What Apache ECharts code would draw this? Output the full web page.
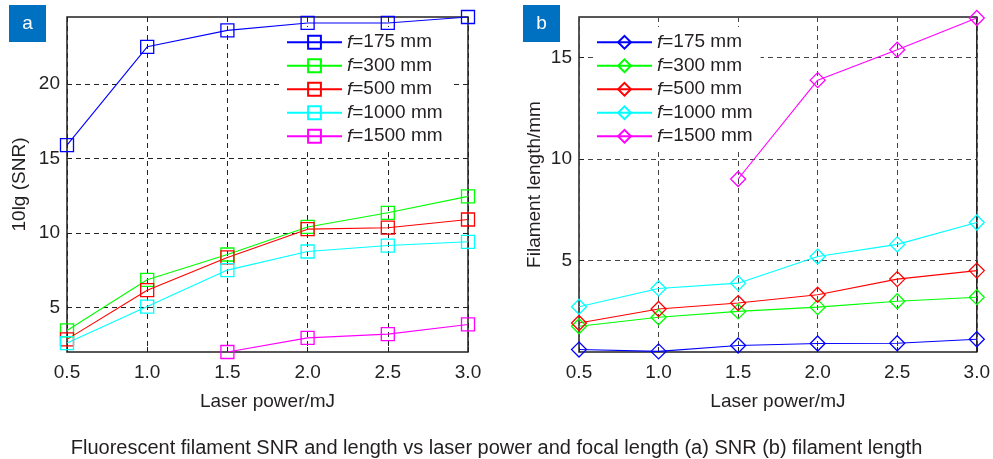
<!DOCTYPE html>
<html>
<head>
<meta charset="utf-8">
<script src="https://cdn.jsdelivr.net/npm/echarts@6/dist/echarts.min.js"></script>
<style>
  html, body { margin: 0; padding: 0; background: #fff; }
  #chart { width: 993px; height: 459px; }
</style>
</head>
<body>
<div id="chart"></div>
<script>
const laserPower = [0.5, 1.0, 1.5, 2.0, 2.5, 3.0]
const focalLengths = ['175', '300', '500', '1000', '1500']
const colors = ['#0000ff', '#00ff00', '#ff0000', '#00ffff', '#ff00ff']

// (a) 10lg(SNR)
const snr175 = [15.9, 22.5, 23.6, 24.1, 24.1, 24.5]
const snr300 = [3.45, 6.85, 8.55, 10.4, 11.35, 12.45]
const snr500 = [2.85, 6.15, 8.35, 10.25, 10.35, 10.9]
const snr1000 = [2.6, 5.05, 7.5, 8.75, 9.15, 9.4]
const snr1500 = [null, null, 2.0, 2.95, 3.2, 3.85]

// (b) filament length / mm
const len175 = [0.62, 0.53, 0.82, 0.92, 0.93, 1.13]
const len300 = [1.77, 2.21, 2.5, 2.71, 3.0, 3.2]
const len500 = [1.93, 2.62, 2.91, 3.32, 4.09, 4.51]
const len1000 = [2.73, 3.63, 3.89, 5.2, 5.8, 6.88]
const len1500 = [null, null, 9.02, 13.89, 15.39, 16.95]

const snrTicks = [5, 10, 15, 20]
const lenTicks = [5, 10, 15]

const snrData = [snr175, snr300, snr500, snr1000, snr1500]
const lenData = [len175, len300, len500, len1000, len1500]

const font = 'Liberation Sans, Arial, sans-serif'
const textColor = '#231f20'

const pairs = vals => laserPower.map((x, i) => [x, vals[i]]).filter(p => p[1] != null)

const makeSeries = (prefix, dataList, symbol, idx) =>
  dataList.map((vals, i) => ({
    name: prefix + focalLengths[i],
    type: 'line',
    xAxisIndex: idx,
    yAxisIndex: idx,
    data: pairs(vals),
    symbol: symbol,
    symbolSize: symbol === 'rect' ? 13 : 15,
    clip: false,
    lineStyle: { color: colors[i], width: 1.1 },
    itemStyle: { color: 'transparent', borderColor: colors[i], borderWidth: 1.3 },
    emphasis: { disabled: true },
    z: 5
  }))

const xAxisOpt = (gridIndex, lineColor) => ({
  type: 'value',
  gridIndex,
  min: 0.5,
  max: 3.0,
  interval: 0.5,
  name: 'Laser power/mJ',
  nameLocation: 'middle',
  nameGap: 40,
  nameTextStyle: { fontFamily: font, fontSize: 19, color: textColor },
  axisLine: { show: false },
  axisTick: { show: true, inside: true, length: 5, lineStyle: { color: textColor, width: 1 } },
  axisLabel: { formatter: v => v.toFixed(1), fontFamily: font, fontSize: 19, color: textColor, margin: 11 },
  splitLine: { show: true, lineStyle: { color: lineColor, type: [5, 4], width: 1 } }
})

const yAxisOpt = (gridIndex, min, max, ticks, name, gap, lineColor) => ({
  type: 'value',
  gridIndex,
  min,
  max,
  name,
  nameLocation: 'middle',
  nameGap: gap,
  nameTextStyle: { fontFamily: font, fontSize: 19, color: textColor },
  axisLine: { show: false },
  axisTick: { show: true, inside: true, length: 5, customValues: ticks, lineStyle: { color: textColor, width: 1 } },
  axisLabel: { customValues: ticks, fontFamily: font, fontSize: 19, color: textColor, margin: 7 },
  splitLine: { show: true, lineStyle: { color: lineColor, type: [5, 4], width: 1 } }
})

const legendOpt = (prefix, left) => ({
  orient: 'vertical',
  left,
  top: 27,
  padding: [5, 8, 5, 3],
  backgroundColor: '#fff',
  itemWidth: 55,
  itemHeight: 16,
  itemGap: 3,
  selectedMode: false,
  data: focalLengths.map(f => prefix + f),
  formatter: name => '{i|f}{t|=' + name.slice(2) + ' mm}',
  textStyle: {
    fontFamily: font,
    fontSize: 19,
    color: textColor,
    lineHeight: 20.5,
    rich: {
      i: { fontStyle: 'italic', fontFamily: font, fontSize: 19, color: textColor },
      t: { fontFamily: font, fontSize: 19, color: textColor }
    }
  },
  z: 3
})

const panelTag = (letter, x) => ({
  type: 'group',
  left: x,
  top: 5,
  children: [
    { type: 'rect', shape: { x: 0, y: 0, width: 37, height: 37 }, style: { fill: '#0070c0' } },
    { type: 'text', x: 18.5, y: 18.5, style: { text: letter, fill: '#fff', font: '19px ' + font, align: 'center', verticalAlign: 'middle' } }
  ]
})

const chart = echarts.init(document.getElementById('chart'))
chart.setOption({
  animation: false,
  backgroundColor: '#fff',
  title: {
    text: 'Fluorescent filament SNR and length vs laser power and focal length (a) SNR (b) filament length',
    left: 'center',
    top: 438,
    padding: 0,
    textStyle: { fontFamily: font, fontSize: 20, fontWeight: 'normal', color: textColor }
  },
  grid: [
    { left: 67, top: 17, width: 401, height: 335, show: true, borderColor: textColor, borderWidth: 1.5, backgroundColor: 'transparent' },
    { left: 579, top: 17, width: 400, height: 335, show: true, borderColor: textColor, borderWidth: 1.5, backgroundColor: 'transparent' }
  ],
  xAxis: [xAxisOpt(0, '#222'), xAxisOpt(1, '#444')],
  yAxis: [
    yAxisOpt(0, 2, 24.5, snrTicks, '10lg (SNR)', 38, '#222'),
    yAxisOpt(1, 0.5, 17, lenTicks, 'Filament length/mm', 35, '#444')
  ],
  legend: [legendOpt('a:', 283), legendOpt('b:', 593)],
  graphic: [panelTag('a', 9), panelTag('b', 523)],
  series: [
    ...makeSeries('a:', snrData, 'rect', 0),
    ...makeSeries('b:', lenData, 'diamond', 1)
  ]
})
</script>
</body>
</html>
